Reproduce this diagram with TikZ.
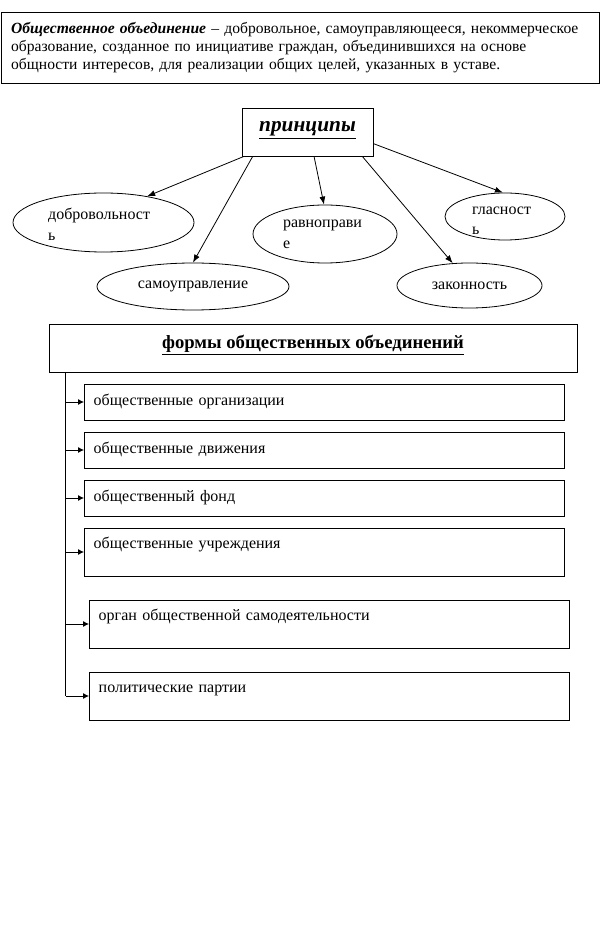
\documentclass[tikz,border=0pt]{standalone}
\usepackage{fontspec}
\setmainfont{Liberation Serif}
\usetikzlibrary{shapes.geometric,arrows.meta}

\begin{document}
\begin{tikzpicture}[x=0.75pt,y=-0.75pt,line width=0.6pt,
  font=\fontsize{12}{13.5}\selectfont,
  oval/.style={draw,ellipse,inner sep=0pt,align=left,font=\fontsize{12}{15.5}\selectfont},
  formbox/.style={draw,anchor=west,inner xsep=7pt,inner ysep=3pt,text width=346pt,align=left,text height=8.5pt},
  arr/.style={-{Latex[length=6pt,width=4.5pt]}},
  sarr/.style={-{Latex[length=4.5pt,width=4.5pt]}}]
  \useasboundingbox (0,0) rectangle (602,937);

  \node[draw,text width=434pt,inner xsep=7pt,minimum height=53.25pt,align=left,
    font=\fontsize{11.7}{13.5}\selectfont] (def) at (300.5,47.5)
    {\mbox{\textbf{\textit{Общественное объединение}} – добровольное, самоуправляющееся, некоммерческое}\\
     образование, созданное по инициативе граждан, объединившихся на основе\\
     общности интересов, для реализации общих целей, указанных в уставе.};

  % principles
  \node[draw,minimum width=98.25pt,minimum height=36pt,text depth=8pt,
    font=\fontsize{16}{16}\selectfont\bfseries\itshape] (princ) at (307.5,132) {\underline{принципы}};
  \node[oval,minimum width=135.75pt,minimum height=44.25pt,text width=83pt,text height=11pt] (dobr) at (103.5,222.5) {добровольност\\ь};
  \node[oval,minimum width=144pt,minimum height=35.25pt] (samo) at (193,286.5) {самоуправление};
  \node[oval,minimum width=108pt,minimum height=43.5pt,text width=63pt] (ravn) at (325,234) {равноправи\\е};
  \node[oval,minimum width=90pt,minimum height=35.25pt,text width=49.5pt,text height=12pt,inner ysep=-4pt] (glas) at (505,216.5) {гласност\\ь};
  \node[oval,minimum width=108.75pt,minimum height=33.75pt] (zakon) at (469.5,285.5) {законность};

  \draw[arr] (princ.201) -- (dobr.31);
  \draw[arr] (princ.204) -- (samo.90);
  \draw[arr] (princ.285) -- (ravn.92);
  \draw[arr] (princ.336) -- (zakon.127);
  \draw[arr] (princ.-10) -- (glas.95);

  % forms
  \node[draw,minimum width=396pt,minimum height=36pt,text depth=10pt,
    font=\fontsize{14}{14}\selectfont\bfseries] (forms) at (313,348) {\underline{формы общественных объединений}};
  \node[formbox,text depth=3pt,minimum height=27pt] (f1) at (84,402) {общественные организации};
  \node[formbox,text depth=3pt,minimum height=27pt] (f2) at (84,450) {общественные движения};
  \node[formbox,text depth=3pt,minimum height=27pt] (f3) at (84,498) {общественный фонд};
  \node[formbox,text depth=13.5pt,minimum height=36pt] (f4) at (84,552) {общественные учреждения};
  \node[formbox,text depth=13.5pt,minimum height=36pt] (f5) at (89,624) {орган общественной самодеятельности};
  \node[formbox,text depth=13.5pt,minimum height=36pt] (f6) at (89,696) {политические партии};

  \coordinate (spine) at ([xshift=12.75pt]forms.south west);
  \coordinate (spineend) at (spine |- f6.west);
  \draw (spine) -- (spineend);
  \foreach \i in {1,...,6}
    \draw[sarr] (spine |- f\i.west) -- (f\i.west);
\end{tikzpicture}
\end{document}
